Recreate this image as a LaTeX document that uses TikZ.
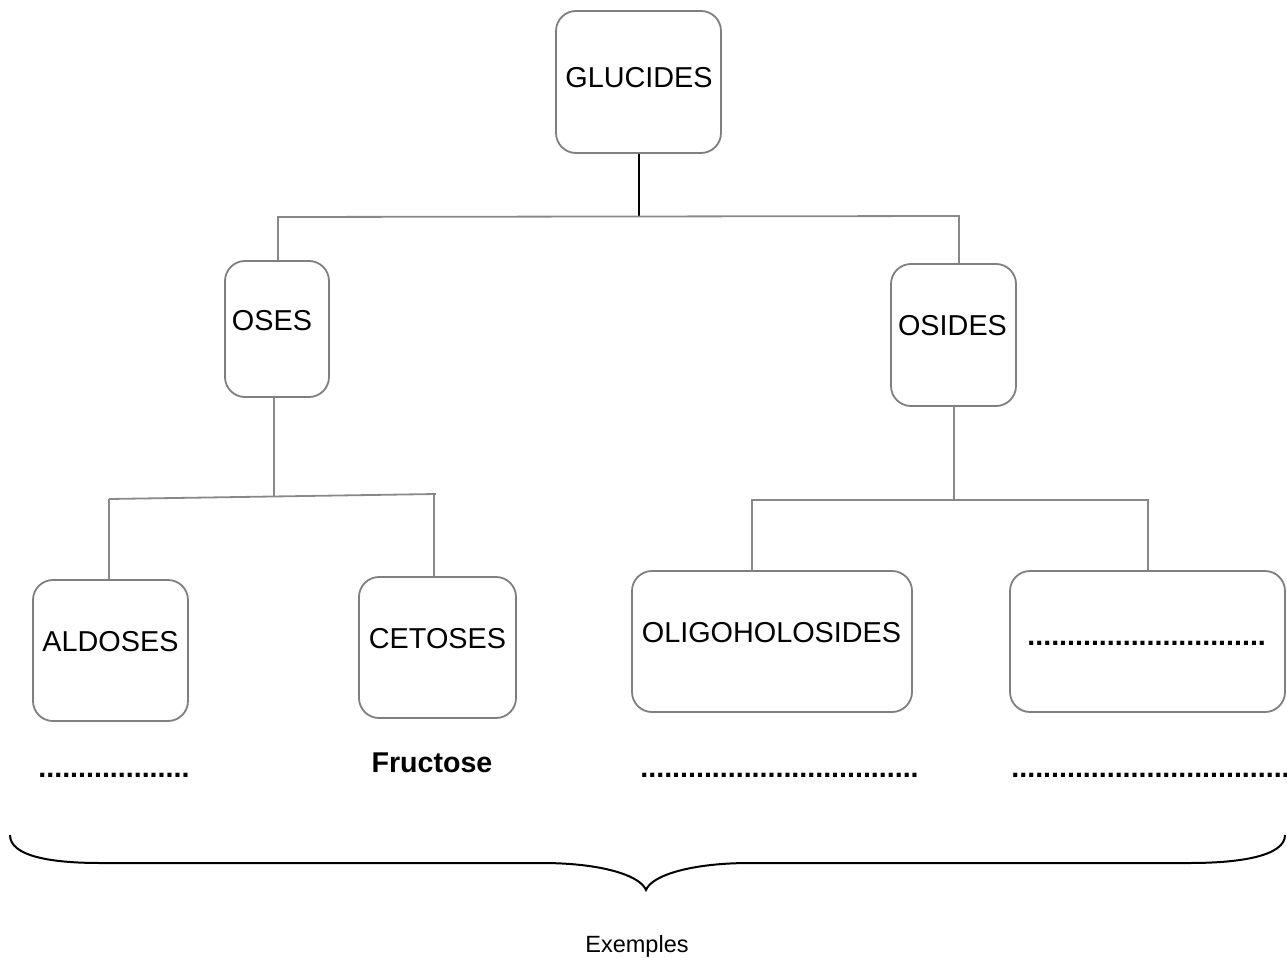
\documentclass[tikz,border=0pt]{standalone}
\usepackage{fontspec}
\setmainfont{Liberation Sans}
\definecolor{boxgray}{HTML}{7F7F7F}
\definecolor{linegray}{HTML}{888888}
\begin{document}
\begin{tikzpicture}[x=0.5pt,y=-0.5pt,
  box/.style={draw=boxgray,line width=0.9pt,rounded corners=10pt,inner sep=0pt,fill=none},
  lbl/.style={font=\fontsize{14.4}{17}\selectfont,inner sep=0pt},
  dotsl/.style={font=\fontsize{14.3}{17}\selectfont\bfseries,inner sep=0pt,anchor=base west},
  gline/.style={draw=linegray,line width=0.9pt},
  bline/.style={draw=black,line width=1pt},
  brace/.style={draw=black,line width=1pt}]
\useasboundingbox (0,0) rectangle (1287,958);
% boxes
\node[box,minimum width=82.5pt,minimum height=71pt] (g) at (638.5,82) {};
\node[box,minimum width=52pt,minimum height=68pt] (oses) at (277,329) {};
\node[box,minimum width=62.5pt,minimum height=71pt] (osides) at (953.5,335) {};
\node[box,minimum width=77.5pt,minimum height=70.5pt] (ald) at (110.5,650.5) {};
\node[box,minimum width=78.5pt,minimum height=70.5pt] (cet) at (437.5,647.5) {};
\node[box,minimum width=140pt,minimum height=70.5pt] (oli) at (772,641.5) {};
\node[box,minimum width=137.5pt,minimum height=70.5pt] (dbx) at (1147.5,641.5) {};
% labels
\node[lbl] (tg) at (639,78) {GLUCIDES};
\node[lbl] (toses) at (272,320.5) {OSES};
\node[lbl] (tosides) at (952.5,326) {OSIDES};
\node[lbl] (tald) at (110.5,641.5) {ALDOSES};
\node[lbl] (tcet) at (437.5,639) {CETOSES};
\node[lbl] (toli) at (771.5,633) {OLIGOHOLOSIDES};
\node[dotsl] (tdbx) at (1027,645) {..............................};
% examples row
\node[dotsl] (e1) at (38,777) {...................};
\node[font=\fontsize{14.3}{17}\selectfont\bfseries,inner sep=0pt,anchor=base] (e2) at (432,772) {Fructose};
\node[dotsl] (e3) at (640,777) {...................................};
\node[dotsl] (e4) at (1011,777) {...................................};
\node[font=\fontsize{11.75}{14}\selectfont,inner sep=0pt,anchor=base] (ex) at (637,952) {Exemples};
% connectors
\coordinate (jG) at (g.south |- 0,216);
\coordinate (jL) at (278,217);
\coordinate (jR) at (959,216);
\draw[bline] (g.south) -- (jG);
\draw[gline] (oses.north -| jL) -- (jL) -- (jR) -- (osides.north -| jR);
\coordinate (jO) at (274,496);
\coordinate (jOL) at (109,499);
\coordinate (jOR) at (436,494);
\coordinate (jOR2) at (434,495);
\draw[gline] (oses.south -| jO) -- (jO);
\draw[gline] (jOL) -- (jOR);
\draw[gline] (jOL) -- (ald.north -| jOL);
\draw[gline] (jOR2) -- (cet.north -| jOR2);
\coordinate (jS) at (954,500);
\coordinate (jSL) at (752,500);
\coordinate (jSR) at (1148,500);
\draw[gline] (osides.south -| jS) -- (jS);
\draw[gline] (oli.north -| jSL) -- (jSL) -- (jSR) -- (dbx.north -| jSR);
% brace
\draw[brace] (10,835) .. controls (10,856) and (50,863) .. (100,863) -- (542,863)
  .. controls (600,863) and (640,875) .. (646,890)
  .. controls (652,875) and (692,863) .. (750,863) -- (1190,863)
  .. controls (1240,863) and (1285,856) .. (1285,835);
\end{tikzpicture}
\end{document}
